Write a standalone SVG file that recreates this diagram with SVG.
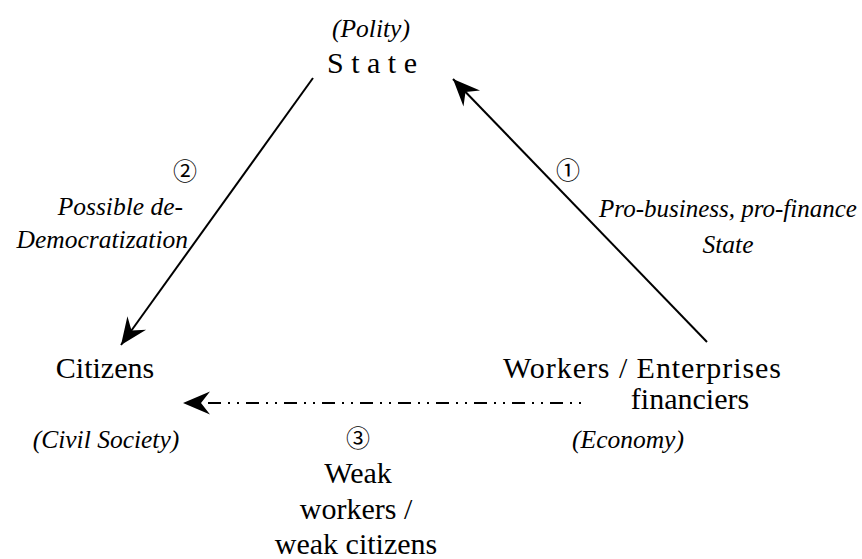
<svg xmlns="http://www.w3.org/2000/svg" width="862" height="559" viewBox="0 0 862 559">
<defs>
<style>
.up{font-family:'Liberation Serif','Times New Roman',serif;font-size:30px;fill:#000}
.it{font-family:'Liberation Serif','Times New Roman',serif;font-size:25.5px;font-style:italic;fill:#000}
.num{font-family:'Noto Sans CJK JP','DejaVu Sans',sans-serif;font-size:24px;fill:#000}
.ln{fill:none;stroke:#000;stroke-width:2}
.dd{stroke-dasharray:2 7 2 7 13 7}
</style>
<marker id="ah" viewBox="-29 -12 31 24" refX="0" refY="0" markerWidth="31" markerHeight="24" orient="auto" markerUnits="userSpaceOnUse">
<path d="M0,0 L-27,-11.5 L-18,0 L-27,11.5 Z" fill="#000"/>
</marker>
</defs>
<rect width="862" height="559" fill="#fff"/>
<g id="connectors">
<path class="ln" d="M707,342 L453,79" marker-end="url(#ah)"/>
<path class="ln" d="M313,78 L121,345" marker-end="url(#ah)"/>
<path class="ln dd" d="M581,403 L183,403" marker-end="url(#ah)"/>
</g>
<g id="state">
<text class="it" x="371" y="37" text-anchor="middle">(Polity)</text>
<text class="up" x="372" y="73" text-anchor="middle">S t a t e</text>
</g>
<g id="citizens">
<text class="up" x="105" y="378" text-anchor="middle">Citizens</text>
<text class="it" x="106" y="448" text-anchor="middle">(Civil Society)</text>
</g>
<g id="economy">
<text class="up" x="642" y="378" text-anchor="middle" textLength="278" lengthAdjust="spacing">Workers / Enterprises</text>
<text class="up" x="690" y="409" text-anchor="middle">financiers</text>
<text class="it" x="628" y="448" text-anchor="middle">(Economy)</text>
</g>
<g id="label1">
<text class="num" x="568" y="179" text-anchor="middle">①</text>
<text class="it" x="728" y="217" text-anchor="middle" style="font-size:25px">Pro-business, pro-finance</text>
<text class="it" x="728" y="253" text-anchor="middle">State</text>
</g>
<g id="label2">
<text class="num" x="185" y="180" text-anchor="middle">②</text>
<text class="it" x="183" y="215" text-anchor="end">Possible de-</text>
<text class="it" x="188" y="248" text-anchor="end">Democratization</text>
</g>
<g id="label3">
<text class="num" x="358" y="447" text-anchor="middle">③</text>
<text class="up" x="358" y="483" text-anchor="middle">Weak</text>
<text class="up" x="356" y="519" text-anchor="middle">workers /</text>
<text class="up" x="356" y="554" text-anchor="middle">weak citizens</text>
</g>
</svg>
